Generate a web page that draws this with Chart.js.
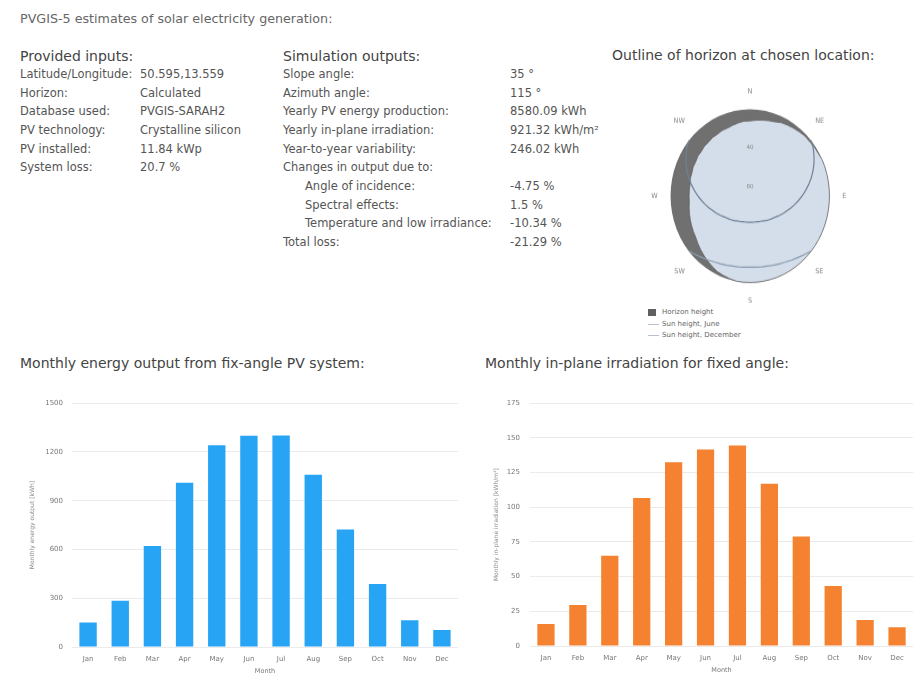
<!DOCTYPE html>
<html>
<head>
<meta charset="utf-8">
<script src="https://cdn.jsdelivr.net/npm/chart.js"></script>
<style>
body{margin:0;width:916px;height:673px;overflow:hidden;background:#fff;font-family:"DejaVu Sans",Verdana,sans-serif;color:#555;position:relative}
.t{position:absolute;white-space:nowrap;line-height:1;font-size:11.5px}
.h{font-size:14px;color:#444}
.title{font-size:12.7px;color:#666}
.ct{font-size:14px;color:#444}
.lg{position:absolute;font-size:7px;color:#666;white-space:nowrap;line-height:1}
canvas{position:absolute}
#hwrap{position:absolute;left:649px;top:97px;width:200px;height:200px;transform:scaleY(1.09);transform-origin:50% 50%}
</style>
</head>
<body>
<div class="t title" style="left:20px;top:13px">PVGIS-5 estimates of solar electricity generation:</div>

<!-- provided inputs -->
<div class="t h" style="left:20px;top:49px">Provided inputs:</div>
<div class="t" style="left:20px;top:69px">Latitude/Longitude:</div><div class="t" style="left:140px;top:69px">50.595,13.559</div>
<div class="t" style="left:20px;top:88px">Horizon:</div><div class="t" style="left:140px;top:88px">Calculated</div>
<div class="t" style="left:20px;top:106px">Database used:</div><div class="t" style="left:140px;top:106px">PVGIS-SARAH2</div>
<div class="t" style="left:20px;top:125px">PV technology:</div><div class="t" style="left:140px;top:125px">Crystalline silicon</div>
<div class="t" style="left:20px;top:144px">PV installed:</div><div class="t" style="left:140px;top:144px">11.84 kWp</div>
<div class="t" style="left:20px;top:162px">System loss:</div><div class="t" style="left:140px;top:162px">20.7 %</div>

<!-- simulation outputs -->
<div class="t h" style="left:283px;top:49px">Simulation outputs:</div>
<div class="t" style="left:283px;top:69px">Slope angle:</div><div class="t" style="left:510px;top:69px">35 °</div>
<div class="t" style="left:283px;top:88px">Azimuth angle:</div><div class="t" style="left:510px;top:88px">115 °</div>
<div class="t" style="left:283px;top:106px">Yearly PV energy production:</div><div class="t" style="left:510px;top:106px">8580.09 kWh</div>
<div class="t" style="left:283px;top:125px">Yearly in-plane irradiation:</div><div class="t" style="left:510px;top:125px">921.32 kWh/m²</div>
<div class="t" style="left:283px;top:144px">Year-to-year variability:</div><div class="t" style="left:510px;top:144px">246.02 kWh</div>
<div class="t" style="left:283px;top:162px">Changes in output due to:</div>
<div class="t" style="left:305px;top:181px">Angle of incidence:</div><div class="t" style="left:510px;top:181px">-4.75 %</div>
<div class="t" style="left:305px;top:200px">Spectral effects:</div><div class="t" style="left:510px;top:200px">1.5 %</div>
<div class="t" style="left:305px;top:218px">Temperature and low irradiance:</div><div class="t" style="left:510px;top:218px">-10.34 %</div>
<div class="t" style="left:283px;top:237px">Total loss:</div><div class="t" style="left:510px;top:237px">-21.29 %</div>

<!-- horizon -->
<div class="t h" style="left:612px;top:48px">Outline of horizon at chosen location:</div>
<div id="hwrap"><canvas id="horizon" width="200" height="200" style="left:0;top:0"></canvas></div>
<div style="position:absolute;left:648px;top:309px;width:8px;height:7px;background:#606060"></div>
<div class="lg" style="left:662px;top:309px">Horizon height</div>
<div style="position:absolute;left:648px;top:324px;width:11px;height:1px;background:#b8c2ce"></div>
<div class="lg" style="left:662px;top:321px">Sun height, June</div>
<div style="position:absolute;left:648px;top:335px;width:11px;height:1px;background:#b8c2ce"></div>
<div class="lg" style="left:662px;top:332px">Sun height, December</div>

<!-- bar charts -->
<div class="t ct" style="left:20px;top:356px">Monthly energy output from fix-angle PV system:</div>
<canvas id="energy" width="438" height="290" style="left:20px;top:390px"></canvas>
<div class="t ct" style="left:485px;top:356px">Monthly in-plane irradiation for fixed angle:</div>
<canvas id="irradiation" width="435" height="290" style="left:478px;top:389px"></canvas>

<script>
// monthly values
const months = ['Jan','Feb','Mar','Apr','May','Jun','Jul','Aug','Sep','Oct','Nov','Dec'];
const energyOutput = [151, 285, 622, 1010, 1241, 1299, 1302, 1060, 723, 388, 165, 104];
const inPlaneIrradiation = [15.9, 29.5, 65.0, 106.6, 132.4, 141.7, 144.5, 116.9, 79.0, 43.3, 18.7, 13.6];

// horizon outline, every 5 degrees of azimuth (0 = north, clockwise)
const azimuths = [0,5,10,15,20,25,30,35,40,45,50,55,60,65,70,75,80,85,90,95,100,105,110,115,
  120,125,130,135,140,145,150,155,160,165,170,175,180,185,190,195,200,205,210,215,220,225,230,235,
  240,245,250,255,260,265,270,275,280,285,290,295,300,305,310,315,320,325,330,335,340,345,350,355];
const compassNames = {0:'N',45:'NE',90:'E',135:'SE',180:'S',225:'SW',270:'W',315:'NW'};
const horizonHeight = [12,11,10,9,8,6,5,4,3,2,2,1,
  1,0,0,0,0,0,0,0,0,0,0,0,
  0,0,0,0,0,0,0,0,0,0,0,0,
  0,0,0,1,2,3,5,7,9,11,13,15,
  16,17,18,19,20,21,21,21,21,20,20,19,
  19,18,18,17,17,16,16,15,15,14,13,12];
const sunJune = [null,null,null,null,null,null,null,null,null,null,0,2.6,
  6.3,10.0,14.1,18.2,22.6,26.9,30.9,34.9,38.6,42.0,45.3,47.9,
  50.3,52.8,54.8,56.1,57.4,58.7,60.1,60.9,61.5,62.2,62.4,62.6,
  62.8,62.6,62.4,62.2,61.5,60.9,60.1,58.7,57.4,56.1,54.8,52.8,
  50.3,47.9,45.3,42.0,38.6,34.9,30.9,26.9,22.6,18.2,14.1,10.0,
  6.3,2.6,0,null,null,null,null,null,null,null,null,null];
const sunDecember = [null,null,null,null,null,null,null,null,null,null,null,null,
  null,null,null,null,null,null,null,null,null,null,null,null,
  null,null,0.5,3.6,6.3,8.4,10.5,12.1,13.4,14.6,15.2,15.7,
  16.0,15.7,15.2,14.6,13.4,12.1,10.5,8.4,6.3,3.6,0.5,null,
  null,null,null,null,null,null,null,null,null,null,null,null,
  null,null,null,null,null,null,null,null,null,null,null,null];

Chart.defaults.font.family = '"DejaVu Sans", Verdana, sans-serif';

// polar outline: centre is the zenith, rim is the 0 degree horizon
new Chart(document.getElementById('horizon'), {
  type: 'radar',
  data: {
    labels: azimuths,
    datasets: [
      {label: 'Sun height, June', data: sunJune, borderColor: 'rgb(112,130,152)', borderWidth: 1.2, pointRadius: 0, fill: false, spanGaps: false},
      {label: 'Sun height, December', data: sunDecember, borderColor: 'rgb(140,156,176)', borderWidth: 1.2, pointRadius: 0, fill: false, spanGaps: false},
      {label: 'Horizon height', data: horizonHeight, borderColor: 'rgb(95,95,95)', borderWidth: 0.8, backgroundColor: 'rgb(112,112,112)', pointRadius: 0, fill: {value: 0}},
      {label: 'sky', data: horizonHeight, borderWidth: 0, backgroundColor: 'rgb(212,222,234)', pointRadius: 0, fill: {value: 90}}
    ]
  },
  options: {
    animation: false,
    responsive: false,
    plugins: {legend: {display: false}, tooltip: {enabled: false}},
    scales: {
      r: {
        min: 0, max: 90, reverse: true,
        angleLines: {display: false},
        grid: {display: false, circular: true},
        ticks: {
          z: 1, stepSize: 40, showLabelBackdrop: false, color: '#888', font: {size: 5.5},
          callback: v => (v === 40 || v === 80) ? v : ''
        },
        pointLabels: {
          color: '#888', font: {size: 6.5}, padding: 8,
          callback: a => compassNames[a] || ''
        }
      }
    }
  }
});

function barChart(id, values, color, yMax, yStep, yTitle, titlePad, tickPad) {
  new Chart(document.getElementById(id), {
    type: 'bar',
    data: {
      labels: months,
      datasets: [{data: values, backgroundColor: color, barPercentage: 0.54, categoryPercentage: 1}]
    },
    options: {
      animation: false,
      responsive: false,
      layout: {padding: {top: 8, right: 0, left: 0, bottom: 0}},
      plugins: {legend: {display: false}, tooltip: {enabled: false}},
      scales: {
        x: {
          grid: {display: false, drawTicks: false},
          border: {display: false},
          ticks: {color: '#777', font: {size: 7}, padding: 8, maxRotation: 0},
          title: {display: true, text: 'Month', color: '#777', font: {size: 6.5}, padding: {top: 0, bottom: 5}},
          afterFit: s => { s.height = 33; }
        },
        y: {
          min: 0, max: yMax,
          grid: {color: '#ebebeb', drawTicks: false},
          border: {display: false},
          ticks: {stepSize: yStep, color: '#777', font: {size: 7}, padding: tickPad, callback: v => v},
          title: {display: true, text: yTitle, color: '#888', font: {size: 6}, padding: {top: titlePad, bottom: 0}},
          afterFit: s => { s.width = 52; }
        }
      }
    }
  });
}

barChart('energy', energyOutput, 'rgb(40,164,244)', 1500, 300, 'Monthly energy output [kWh]', 9, 9);
barChart('irradiation', inPlaneIrradiation, 'rgb(245,130,48)', 175, 25, 'Monthly in-plane irradiation [kWh/m²]', 15, 10);
</script>
</body>
</html>
